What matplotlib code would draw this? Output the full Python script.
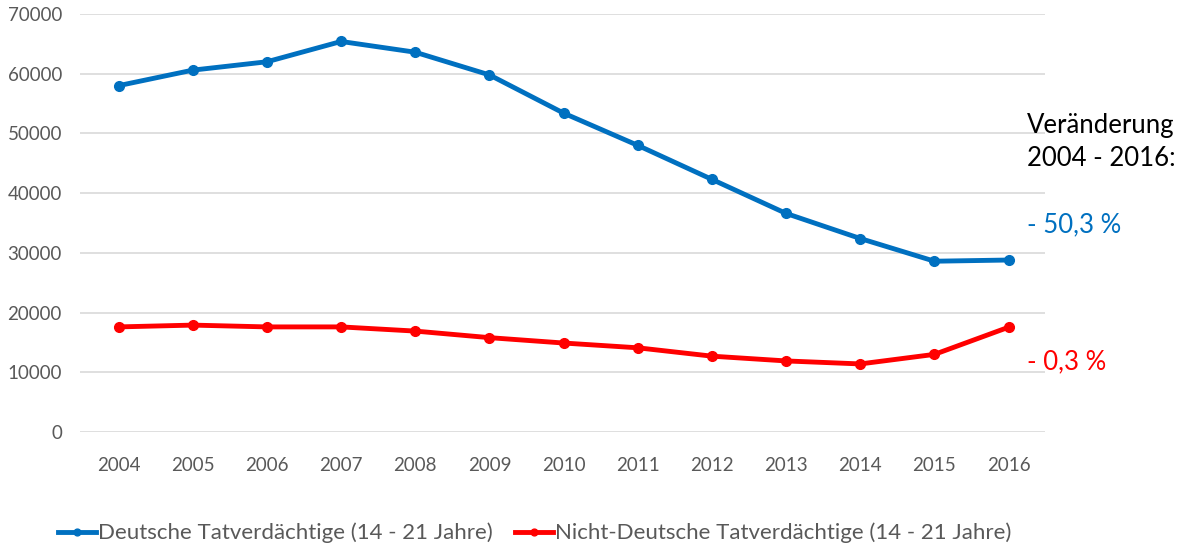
import numpy as np
import matplotlib.pyplot as plt

plt.rcParams['font.family'] = ['Lato', 'DejaVu Sans']

years = ['2004', '2005', '2006', '2007', '2008', '2009', '2010',
         '2011', '2012', '2013', '2014', '2015', '2016']
deutsche = [58000, 60600, 62000, 65400, 63600, 59800, 53400,
            48000, 42300, 36600, 32400, 28600, 28800]
nicht_deutsche = [17600, 17900, 17600, 17600, 16900, 15800, 14900,
                  14100, 12700, 11900, 11400, 13000, 17550]
label_de = 'Deutsche Tatverdächtige (14 - 21 Jahre)'
label_nd = 'Nicht-Deutsche Tatverdächtige (14 - 21 Jahre)'

blue = '#0070c0'
red = '#ff0000'
grey = '#595959'

fig = plt.figure(figsize=(11.81, 5.46), dpi=100)
ax = fig.add_axes([80 / 1181, 1 - 432 / 546, 965 / 1181, 418 / 546])

x = np.arange(len(years))
ax.plot(x, deutsche, color=blue, lw=3.5, marker='o', ms=7, label=label_de)
ax.plot(x, nicht_deutsche, color=red, lw=3.5, marker='o', ms=7, label=label_nd)

ax.set_xlim(-0.52, 12.49)
ax.set_ylim(0, 70000)
ax.set_yticks(range(0, 70001, 10000))
ax.set_xticks(x)
ax.set_xticklabels(years)
ax.grid(axis='y', color='#d9d9d9', lw=1.2)
ax.set_axisbelow(True)
for s in ax.spines.values():
    s.set_visible(False)
ax.tick_params(length=0, labelsize=13.5, colors=grey, pad=13)
ax.tick_params(axis='x', pad=18)

fig.text(1027 / 1181, 1 - 142 / 546, 'Veränderung\n2004 - 2016:', fontsize=18.5,
         color='black', va='center', ha='left', linespacing=1.4)
fig.text(1027 / 1181, 1 - 225 / 546, '- 50,3 %', fontsize=18.5, color=blue,
         va='center', ha='left')
fig.text(1027 / 1181, 1 - 362 / 546, '- 0,3 %', fontsize=18.5, color=red,
         va='center', ha='left')

leg = fig.legend(loc='center left', bbox_to_anchor=(38 / 1181, 1 - 533 / 546),
                 ncol=2, frameon=False, fontsize=16, handlelength=1.7,
                 handletextpad=0.1, columnspacing=1.0, markerscale=0.7)
for t in leg.get_texts():
    t.set_color(grey)

fig.savefig('out.png', dpi=100)
